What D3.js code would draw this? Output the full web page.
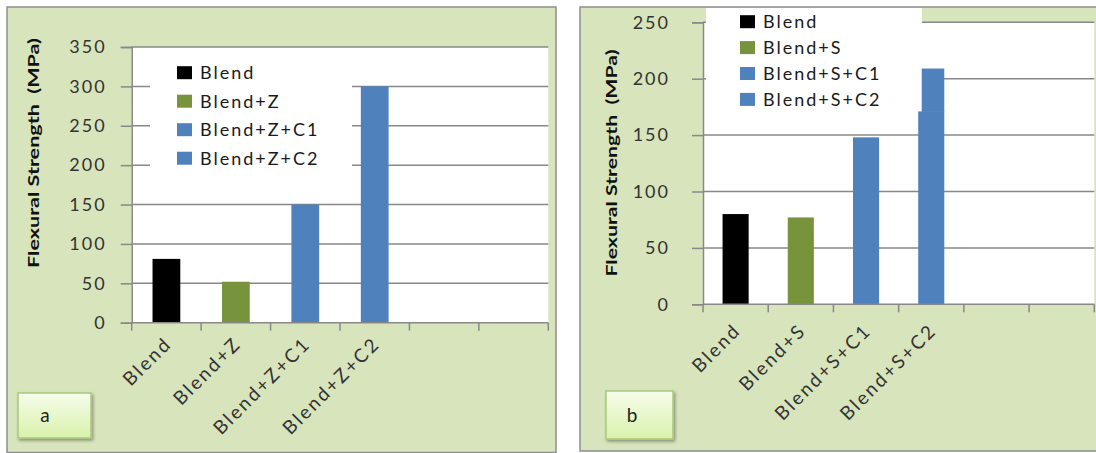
<!DOCTYPE html>
<html><head><meta charset="utf-8">
<script src="https://cdn.jsdelivr.net/npm/d3@7"></script>
<style>
html,body{margin:0;padding:0;background:#fff;}
svg{display:block;}
text{font-family:Lato,"Open Sans",sans-serif;}
</style></head>
<body>
<svg id="chart" width="1096" height="453"></svg>
<script>
// ---- data ----
const catsA = ["Blend", "Blend+Z", "Blend+Z+C1", "Blend+Z+C2"];
const valsA = [81, 52, 150, 300];
const ticksA = [0, 50, 100, 150, 200, 250, 300, 350];

const catsB = ["Blend", "Blend+S", "Blend+S+C1", "Blend+S+C2"];
const valsB = [80, 77, 148, 209];
const ticksB = [0, 50, 100, 150, 200, 250];
// the last bar of panel b shows a small step on its left edge at about this value
const stepB = [null, null, null, 171];

const barColors = ["#000000", "#77933c", "#4f81bd", "#4f81bd"];
const yTitle = "Flexural Strength  (MPa)";
const slots = 6; // category slots on the x axis (4 used, 2 empty)

const svg = d3.select("#chart");
const defs = svg.append("defs");
const grad = defs.append("linearGradient").attr("id", "lblGrad").attr("x1", 0).attr("y1", 0).attr("x2", 0).attr("y2", 1);
grad.append("stop").attr("offset", "0%").attr("stop-color", "#f6fcec");
grad.append("stop").attr("offset", "100%").attr("stop-color", "#d9f2ab");
const flt = defs.append("filter").attr("id", "shadow").attr("x", "-20%").attr("y", "-20%").attr("width", "150%").attr("height", "150%");
flt.append("feDropShadow").attr("dx", 1.5).attr("dy", 2).attr("stdDeviation", 1.5).attr("flood-color", "#000").attr("flood-opacity", 0.35);

function drawPanel(p) {
  const g = svg.append("g");
  // panel background
  g.append("rect").attr("x", p.box[0]).attr("y", p.box[1])
    .attr("width", p.box[2] - p.box[0]).attr("height", p.box[3] - p.box[1])
    .attr("fill", "#d8e4bc").attr("stroke", "#8e8e8e").attr("stroke-width", 1.5);

  const x = d3.scaleBand().domain(d3.range(slots)).range([p.x0, p.x1])
    .paddingInner(0.6).paddingOuter(0.3);
  const y = d3.scaleLinear().domain([0, p.ymax]).range([p.y0, p.y1]);

  // plot area
  g.append("rect").attr("x", p.x0).attr("y", y(p.ymax)).attr("width", p.x1 - p.x0)
    .attr("height", y(0) - y(p.ymax)).attr("fill", "#fff");

  // gridlines
  g.append("g").selectAll("line").data(p.ticks.filter(t => t > 0)).join("line")
    .attr("x1", p.x0).attr("x2", p.x1).attr("y1", d => y(d)).attr("y2", d => y(d))
    .attr("stroke", "#888").attr("stroke-width", 1.5);

  // legend box (covers gridlines)
  const lg = g.append("g");
  lg.append("rect").attr("x", p.leg.x).attr("y", p.leg.y).attr("width", p.leg.w).attr("height", p.leg.h).attr("fill", "#fff");

  // bars
  const bars = g.append("g");
  p.vals.forEach((v, i) => {
    const s = p.step ? p.step[i] : null;
    if (s == null) {
      bars.append("rect").attr("x", x(i)).attr("width", x.bandwidth())
        .attr("y", y(v)).attr("height", y(0) - y(v)).attr("fill", barColors[i]);
    } else {
      bars.append("rect").attr("x", x(i)).attr("width", x.bandwidth())
        .attr("y", y(s)).attr("height", y(0) - y(s)).attr("fill", barColors[i]);
      bars.append("rect").attr("x", x(i) + 3.5).attr("width", x.bandwidth() - 3.5)
        .attr("y", y(v)).attr("height", y(s) - y(v) + 0.5).attr("fill", barColors[i]);
    }
  });

  // y axis
  const ya = d3.axisLeft(y).tickValues(p.ticks).tickSize(11).tickPadding(p.tickPad);
  const yg = g.append("g").attr("transform", `translate(${p.x0},0)`).call(ya);
  yg.select(".domain").attr("stroke", "#888").attr("stroke-width", 1.5);
  yg.selectAll(".tick line").attr("stroke", "#888").attr("stroke-width", 1.5);
  yg.selectAll(".tick text").attr("font-size", 18).attr("fill", "#333")
    .attr("font-family", "Lato, sans-serif").style("letter-spacing", "2px");

  // x axis: ticks at slot boundaries
  const xa = g.append("g");
  xa.append("line").attr("x1", p.x0).attr("x2", p.x1).attr("y1", y(0)).attr("y2", y(0))
    .attr("stroke", "#888").attr("stroke-width", 1.5);
  const bounds = d3.range(slots + 1).map(i => p.x0 + i * x.step());
  xa.selectAll("line.tk").data(bounds).join("line").attr("class", "tk")
    .attr("x1", d => d).attr("x2", d => d).attr("y1", y(0)).attr("y2", y(0) + 8)
    .attr("stroke", "#888").attr("stroke-width", 1.5);
  xa.selectAll("text").data(p.cats).join("text")
    .attr("transform", (d, i) => `translate(${x(i) + x.bandwidth() / 2 - 3},${y(0) + p.xlabOff}) rotate(-45)`)
    .attr("text-anchor", "end").attr("dy", "0.7em").attr("font-size", 19).attr("fill", "#333")
    .style("letter-spacing", "2.3px")
    .text(d => d);

  // y title
  g.append("text").attr("transform", `translate(${p.titleX},${p.titleY}) rotate(-90)`)
    .attr("text-anchor", "middle").attr("dy", "0.35em")
    .attr("font-size", 15).attr("font-weight", "bold").attr("fill", "#111")
    .style("white-space", "pre")
    .attr("textLength", p.titleLen).attr("lengthAdjust", "spacingAndGlyphs")
    .text(yTitle);

  // legend entries
  const le = lg.selectAll("g.e").data(p.cats).join("g").attr("class", "e")
    .attr("transform", (d, i) => `translate(${p.leg.sx},${p.leg.ey + i * p.leg.step})`);
  le.append("rect").attr("x", 0).attr("y", -6.5).attr("width", 15).attr("height", 13)
    .attr("fill", (d, i) => barColors[i]);
  le.append("text").attr("x", 23).attr("dy", "0.36em").attr("font-size", 18).attr("fill", "#1a1a1a")
    .style("letter-spacing", "2px").text(d => d);

  // panel label box
  const lb = g.append("g");
  lb.append("rect").attr("x", p.lab.x).attr("y", p.lab.y).attr("width", p.lab.w).attr("height", p.lab.h)
    .attr("fill", "url(#lblGrad)").attr("stroke", "#a9c97a").attr("stroke-width", 1.5)
    .attr("filter", "url(#shadow)");
  lb.append("text").attr("x", p.lab.tx).attr("y", p.lab.y + p.lab.h / 2).attr("dy", "0.35em")
    .attr("text-anchor", "middle").attr("font-size", 19).attr("fill", "#222").text(p.lab.t);
}

drawPanel({
  box: [7, 7, 556, 452.5],
  x0: 131.7, x1: 548.3, y0: 322.7, y1: 47, ymax: 350,
  ticks: ticksA, cats: catsA, vals: valsA, step: null, tickPad: 14, xlabOff: 13,
  titleX: 34, titleY: 153, titleLen: 230,
  leg: { x: 150, y: 52, w: 202, h: 133, sx: 177, ey: 72.7, step: 28.5 },
  lab: { x: 18, y: 393, w: 73, h: 45, tx: 45, t: "a" }
});

drawPanel({
  box: [580, 7, 1098, 451],
  x0: 703, x1: 1094.3, y0: 304.3, y1: 22.3, ymax: 250,
  ticks: ticksB, cats: catsB, vals: valsB, step: stepB, tickPad: 22, xlabOff: 18,
  titleX: 612, titleY: 163, titleLen: 227,
  leg: { x: 706, y: 8, w: 216, h: 105, sx: 740, ey: 21.7, step: 25.9 },
  lab: { x: 606, y: 391, w: 67, h: 48, tx: 632, t: "b" }
});
</script>
</body></html>
